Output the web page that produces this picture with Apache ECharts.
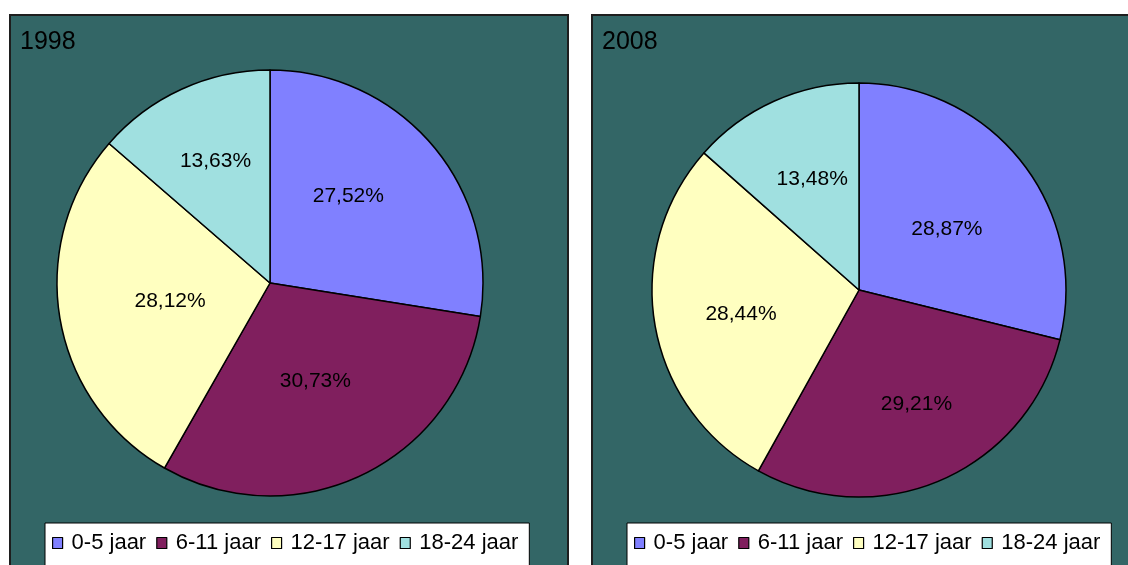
<!DOCTYPE html>
<html>
<head>
<meta charset="utf-8">
<script src="https://cdn.jsdelivr.net/npm/echarts@6/dist/echarts.min.js"></script>
<style>
  html, body { margin: 0; padding: 0; background: #fff; }
  body { width: 1128px; height: 565px; position: relative; overflow: hidden; }
  .panel { position: absolute; top: 14px; height: 580px; border: 2px solid #1e1e1e; background: #336666; }
  #left { left: 9px; width: 556px; }
  #right { left: 591px; width: 560px; }
</style>
</head>
<body>
<div id="left" class="panel"></div>
<div id="right" class="panel"></div>
<script>
var categories = ['0-5 jaar', '6-11 jaar', '12-17 jaar', '18-24 jaar'];
var colors = ['#8080ff', '#801f5e', '#ffffc0', '#a0e0e0'];
var values1998 = [27.52, 30.73, 28.12, 13.63];
var values2008 = [28.87, 29.21, 28.44, 13.48];

// nudges so the labels sit where the original put them
var labelShift1998 = [[-5, -16], [-2, -1], [8, 0], [-9, -22]];
var labelShift2008 = [[4, 5], [15, 17], [-13, 6], [-3, -14]];

function fmt(v) {
    return v.toFixed(2).replace('.', ',') + '%';
}

function getOption(title, values, shifts, center, radius) {
    return {
        backgroundColor: '#336666',
        animation: false,
        title: {
            text: title,
            left: 9,
            top: 14,
            padding: 0,
            textStyle: {
                fontFamily: 'Liberation Sans',
                fontSize: 25,
                fontWeight: 'normal',
                color: '#000'
            }
        },
        legend: {
            left: 34,
            top: 507,
            backgroundColor: '#fff',
            borderColor: '#000',
            borderWidth: 1,
            padding: [9, 11, 20, 7],
            itemWidth: 10,
            itemHeight: 11,
            itemGap: 10,
            icon: 'rect',
            itemStyle: { borderColor: '#000', borderWidth: 1.2 },
            textStyle: {
                fontFamily: 'Liberation Sans',
                fontSize: 22,
                color: '#000',
                padding: [0, 0, 0, 4]
            },
            data: categories
        },
        series: [{
            type: 'pie',
            center: center,
            radius: radius,
            startAngle: 90,
            clockwise: true,
            color: colors,
            itemStyle: { borderColor: '#000', borderWidth: 1.5 },
            label: {
                position: 'inner',
                fontFamily: 'Liberation Sans',
                fontSize: 21,
                color: '#000',
                formatter: function (p) { return fmt(p.value); }
            },
            labelLayout: function (p) {
                var s = shifts[p.dataIndex];
                return { dx: s[0], dy: s[1] };
            },
            labelLine: { show: false },
            emphasis: { disabled: true },
            data: categories.map(function (c, i) {
                return { name: c, value: values[i] };
            })
        }]
    };
}

var leftChart = echarts.init(document.getElementById('left'));
leftChart.setOption(getOption('1998', values1998, labelShift1998, [259, 267], 213));

var rightChart = echarts.init(document.getElementById('right'));
rightChart.setOption(getOption('2008', values2008, labelShift2008, [266, 274], 207));
</script>
</body>
</html>
